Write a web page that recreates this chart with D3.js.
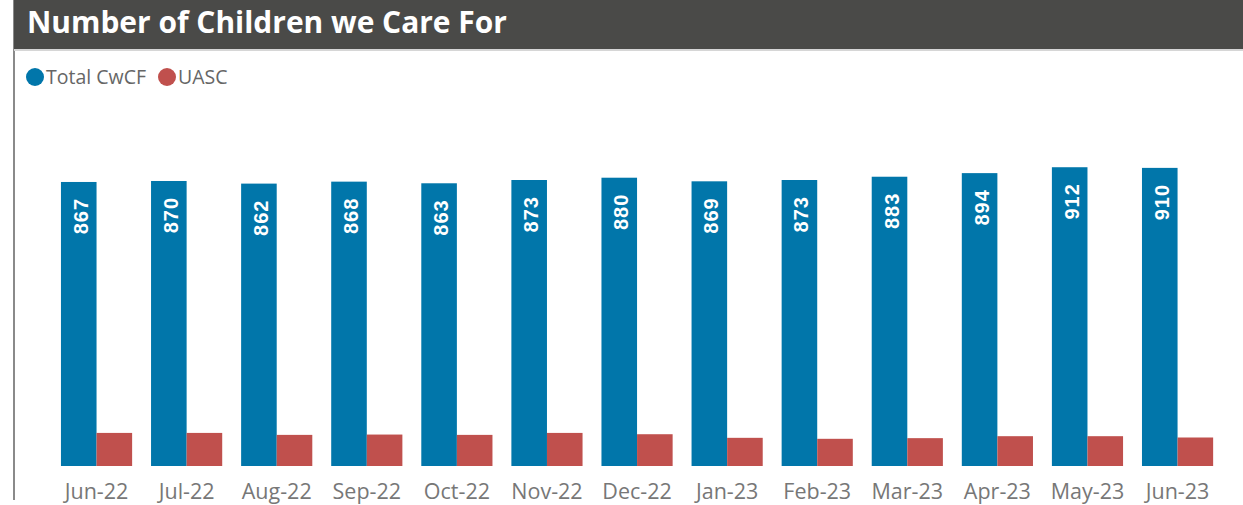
<!DOCTYPE html>
<html>
<head>
<meta charset="utf-8">
<script src="https://cdn.jsdelivr.net/npm/d3@7"></script>
<style>
  html, body { margin: 0; padding: 0; background: #fff; }
  svg { display: block; }
</style>
</head>
<body>
<div id="chart"></div>
<script>
// chart data
var months = ["Jun-22", "Jul-22", "Aug-22", "Sep-22", "Oct-22", "Nov-22", "Dec-22",
              "Jan-23", "Feb-23", "Mar-23", "Apr-23", "May-23", "Jun-23"];
var totalCwCF = [867, 870, 862, 868, 863, 873, 880, 869, 873, 883, 894, 912, 910];
var uasc = [101, 101, 95, 96, 95, 101, 97, 86, 83, 85, 91, 91, 87];
var seriesNames = ["Total CwCF", "UASC"];
var seriesColors = ["#0176AA", "#C0504D"];
var chartTitle = "Number of Children we Care For";

function main() {
    var width = 1243,
        height = 505;

    var svg = d3.select("#chart").append("svg")
        .attr("width", width)
        .attr("height", height);

    /* frame: left border and title bar */
    svg.append("rect")
        .attr("x", 13).attr("y", 0)
        .attr("width", 2).attr("height", 500)
        .attr("fill", "#8a8a8a");

    svg.append("rect")
        .attr("x", 14).attr("y", 0)
        .attr("width", width - 14).attr("height", 49)
        .attr("fill", "#4a4a48");

    svg.append("rect")
        .attr("x", 14).attr("y", 49)
        .attr("width", width - 14).attr("height", 2)
        .attr("fill", "#d6d6d6");

    var title = svg.append("text")
        .attr("x", 27).attr("y", 33)
        .attr("fill", "#fff")
        .style("font-family", "'Open Sans', sans-serif")
        .style("font-weight", 700)
        .style("font-size", "27px")
        .text(chartTitle);
    // fit title to the width it has in the original
    var tw = title.node().getComputedTextLength();
    title.style("font-size", (27 * 480 / tw) + "px");

    /* legend: circle then label, next item right after the label */
    var legend = svg.append("g");
    var lx = 35;
    seriesNames.forEach(function(name, i) {
        legend.append("circle")
            .attr("cx", lx).attr("cy", 77)
            .attr("r", 9)
            .attr("fill", seriesColors[i]);
        var t = legend.append("text")
            .attr("x", lx + 11)
            .attr("y", 77)
            .attr("dy", "0.36em")
            .attr("fill", "#666")
            .style("font-family", "'Open Sans', sans-serif")
            .style("font-size", "19.5px")
            .text(name);
        lx = lx + 11 + t.node().getComputedTextLength() + 21;
    });

    /* scales */
    var x0 = d3.scaleBand()
        .domain(months)
        .range([51.5, 1222.6])
        .paddingInner(0.21)
        .paddingOuter(0.105);

    var x1 = d3.scaleBand()
        .domain(seriesNames)
        .range([0, x0.bandwidth()]);

    var y = d3.scaleLinear()
        .domain([0, 1000])
        .range([466, 138.4]);

    var rows = months.map(function(m, i) {
        return { month: m, values: [
            { key: seriesNames[0], value: totalCwCF[i], color: seriesColors[0] },
            { key: seriesNames[1], value: uasc[i], color: seriesColors[1] }
        ] };
    });

    var groups = svg.append("g").selectAll("g")
        .data(rows)
        .enter().append("g")
        .attr("transform", function(d) { return "translate(" + x0(d.month) + ",0)"; });

    groups.selectAll("rect")
        .data(function(d) { return d.values; })
        .enter().append("rect")
        .attr("x", function(d) { return x1(d.key); })
        .attr("y", function(d) { return y(d.value); })
        .attr("width", x1.bandwidth())
        .attr("height", function(d) { return y(0) - y(d.value); })
        .attr("fill", function(d) { return d.color; });

    // data labels inside the blue bars, rotated
    groups.append("text")
        .attr("transform", function(d) {
            var cx = x1(seriesNames[0]) + x1.bandwidth() / 2 + 2;
            return "translate(" + cx + "," + (y(d.values[0].value) + 16) + ") rotate(-90)";
        })
        .attr("text-anchor", "end")
        .attr("dominant-baseline", "central")
        .attr("fill", "#fff")
        .style("font-family", "'Liberation Sans', Arial, sans-serif")
        .style("font-weight", 700)
        .style("font-size", "20px")
        .style("letter-spacing", "1px")
        .text(function(d) { return d.values[0].value; });

    /* x axis */
    var xAxis = svg.append("g")
        .attr("transform", "translate(0,466)")
        .call(d3.axisBottom(x0).tickSize(0));
    xAxis.select(".domain").remove();
    xAxis.selectAll("text")
        .attr("y", 33)
        .attr("dy", null)
        .attr("fill", "#777")
        .style("font-family", "'Open Sans', sans-serif")
        .style("font-size", "21.5px");
}

main();
</script>
</body>
</html>
